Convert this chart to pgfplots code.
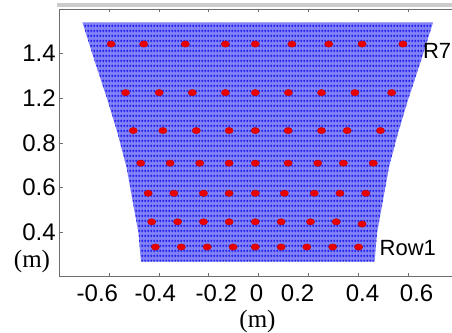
\documentclass[border=0pt]{standalone}
\usepackage{fontspec}
\setmainfont{Liberation Sans}
\newfontfamily\seriffont{Liberation Serif}
\usepackage{pgfplots}
\usepackage{pgfplotstable}
\pgfplotsset{compat=1.18}
\usetikzlibrary{patterns}
\definecolor{meshblue}{RGB}{35,35,235}
\definecolor{meshbg}{RGB}{130,130,248}
\definecolor{dotred}{RGB}{235,0,0}
\definecolor{axgray}{RGB}{110,110,110}
\pgfdeclarepatternformonly{meshdots}{\pgfqpoint{0pt}{0pt}}{\pgfqpoint{2.72pt}{5pt}}{\pgfqpoint{2.72pt}{5pt}}{%
  \pgfpathellipse{\pgfqpoint{1.36pt}{2.5pt}}{\pgfqpoint{1.15pt}{0pt}}{\pgfqpoint{0pt}{1.7pt}}%
  \pgfusepath{fill}%
}
% mesh outline (trapezoid with curved sides)
\pgfplotstableread{
x y
-0.707 1.340
-0.659 1.170
-0.606 0.991
-0.566 0.843
-0.530 0.691
-0.506 0.543
-0.482 0.396
-0.472 0.268
0.466 0.268
0.476 0.396
0.500 0.543
0.524 0.691
0.560 0.843
0.600 0.991
0.653 1.170
0.701 1.340
}\meshoutline
% red points, rows 1..7
\pgfplotstableread{
x y
-0.414 0.333
-0.310 0.333
-0.206 0.333
-0.102 0.333
-0.013 0.333
0.091 0.333
0.194 0.333
0.298 0.333
0.402 0.333
-0.429 0.446
-0.325 0.446
-0.221 0.446
-0.118 0.446
-0.013 0.446
0.091 0.446
0.209 0.446
0.312 0.446
0.416 0.436
-0.443 0.574
-0.340 0.574
-0.221 0.574
-0.118 0.574
-0.013 0.574
0.104 0.574
0.224 0.574
0.327 0.574
0.431 0.574
-0.473 0.709
-0.355 0.709
-0.236 0.709
-0.118 0.709
-0.013 0.709
0.119 0.709
0.238 0.709
0.341 0.709
0.461 0.709
-0.503 0.855
-0.384 0.855
-0.250 0.855
-0.118 0.855
-0.013 0.855
0.119 0.855
0.253 0.855
0.356 0.855
0.490 0.855
-0.534 1.025
-0.399 1.025
-0.266 1.025
-0.133 1.025
-0.013 1.025
0.120 1.025
0.253 1.025
0.387 1.025
0.535 1.025
-0.592 1.243
-0.461 1.243
-0.294 1.243
-0.133 1.243
-0.013 1.243
0.134 1.243
0.282 1.243
0.416 1.243
0.580 1.243
}\reddots
\begin{document}
\begin{tikzpicture}
\useasboundingbox (0,0) rectangle (452pt,332pt);
\fill[black!20] (57pt,325.3pt) rectangle (452pt,328.7pt);
\begin{axis}[
  at={(59.3pt,55.3pt)}, anchor=south west,
  scale only axis, width=398.4pt, height=267.7pt,
  xmin=-0.8, xmax=0.8, ymin=0.2, ymax=1.4,
  axis line style={axgray, line width=0.8pt},
  tick style={axgray, line width=0.6pt},
  major tick length=3.5pt,
  tick align=inside,
  xtick={-0.6,-0.4,-0.2,0,0.2,0.4,0.6},
  xticklabels={},
  extra x ticks={-0.647,-0.414,-0.169,-0.008,0.157,0.418,0.635},
  extra x tick labels={-0.6,-0.4,-0.2,0,0.2,0.4,0.6},
  extra x tick style={major tick length=0pt, tick style={draw=none}},
  ytick={0.4,0.6,0.8,1.0,1.2},
  yticklabels={0.4,0.6,0.8,1.2,1.4},
  ytick pos=left,
  /pgf/number format/assume math mode=true,
  tick label style={font=\fontsize{24}{28}\selectfont},
  xticklabel style={yshift=-5pt},
  xlabel={\seriffont (m)},
  ylabel={\seriffont (m)},
  xlabel style={at={(axis description cs:0.4975,-0.169)}, anchor=center, font=\fontsize{25}{28}\selectfont},
  ylabel style={at={(axis description cs:-0.0685,0.055)}, anchor=center, rotate=-90, font=\fontsize{25}{28}\selectfont},
  clip=false,
]
\addplot[draw=none, fill=meshbg, postaction={pattern=meshdots, pattern color=meshblue}]
  table[x=x,y=y]{\meshoutline} -- cycle;
\addplot[only marks, mark=*, mark size=3.2pt,
  mark options={xscale=1.3, fill=dotred, draw=red!70!black, line width=0.3pt}]
  table[x=x,y=y]{\reddots};
\node[anchor=west, inner sep=0pt, font=\fontsize{22}{26}\selectfont] at (axis cs:0.66,1.21) {R7};
\node[anchor=west, inner sep=0pt, font=\fontsize{22}{26}\selectfont] at (axis cs:0.486,0.328) {Row1};
\end{axis}
\end{tikzpicture}
\end{document}
